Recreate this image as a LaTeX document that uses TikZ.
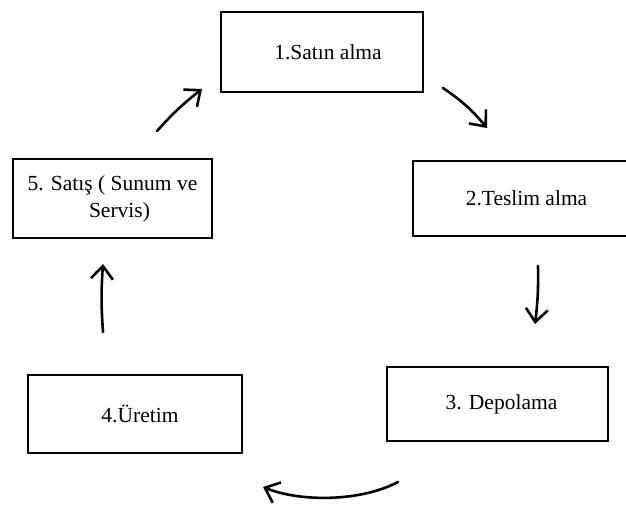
\documentclass[tikz,border=0pt]{standalone}
\usepackage{fontspec}
\setmainfont{Liberation Serif}
\usetikzlibrary{arrows.meta}
\begin{document}
\begin{tikzpicture}[x=1pt,y=-1pt,
  box/.style={draw, line width=2pt, inner sep=0pt, font=\fontsize{21.5}{27}\selectfont, align=center},
  arr/.style={line width=2.6pt, line cap=round, -{Straight Barb[length=13pt,width=22pt]}}]
\clip (0,0) rectangle (626,504);
\fill[white] (0,0) rectangle (626,504);
\node[box, minimum width=202pt, minimum height=80pt] (b1) at (322,52) {\hspace*{12pt}1.Satın alma};
\node[box, minimum width=227pt, minimum height=75pt] (b2) at (526.5,198.5) {2.Teslim alma};
\node[box, minimum width=221pt, minimum height=74pt] (b3) at (497.5,404) {\hspace*{8pt}3. Depolama};
\node[box, minimum width=214pt, minimum height=78pt] (b4) at (135,414) {\hspace*{10pt}4.Üretim};
\node[box, minimum width=199pt, minimum height=79pt] (b5) at (112.5,198.5) {5. Satış ( Sunum ve\\\hspace*{14pt}Servis)};
\coordinate (a1s) at (157,131); \coordinate (a1e) at (202,89);
\coordinate (a2s) at (443,88);  \coordinate (a2e) at (487,128);
\coordinate (a3s) at (538,266); \coordinate (a3e) at (535,324);
\coordinate (a4s) at (398,482); \coordinate (a4e) at (263,487);
\coordinate (a5s) at (103,332); \coordinate (a5e) at (103,264);
\draw[arr] (a1s) to[bend left=5] (a1e);
\draw[arr] (a2s) to[bend left=8] (a2e);
\draw[arr] (a3s) to[bend left=4] (a3e);
\draw[arr] (a4s) .. controls (360,502) and (300,502) .. (a4e);
\draw[arr] (a5s) to[bend left=4] (a5e);
\end{tikzpicture}
\end{document}
